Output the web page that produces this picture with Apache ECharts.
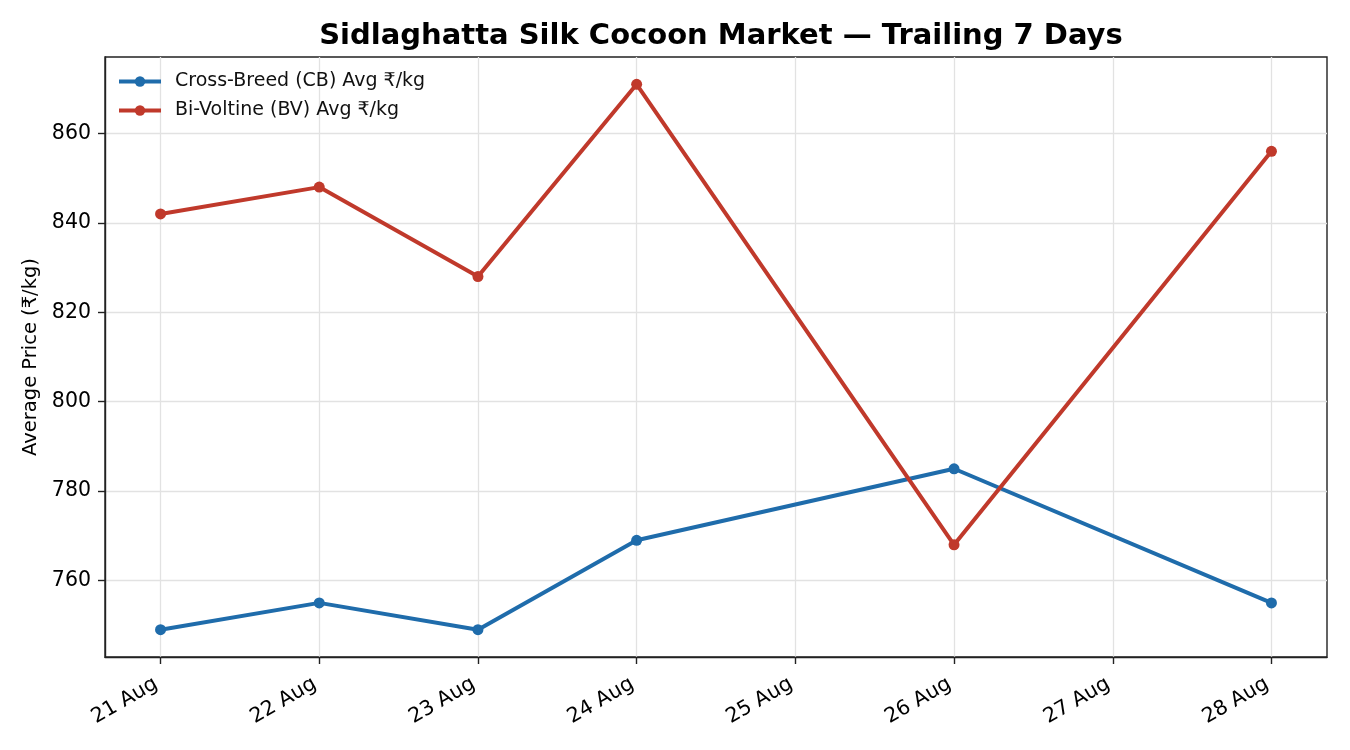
<!DOCTYPE html>
<html>
<head>
<meta charset="utf-8">
<title>Sidlaghatta Silk Cocoon Market</title>
<script src="https://cdn.jsdelivr.net/npm/echarts@6/dist/echarts.min.js"></script>
<style>
	html, body { margin: 0; padding: 0; background: #fff; }
	#main { width: 1350px; height: 750px; }
</style>
</head>
<body>
<div id="main"></div>
<script>
// trading days in August (no market on 25th and 27th)
var days = [21, 22, 23, 24, 26, 28];
var cbPrice = [749, 755, 749, 769, 785, 755];
var bvPrice = [842, 848, 828, 871, 768, 856];
// tick labels
var dayTicks = [21, 22, 23, 24, 25, 26, 27, 28];
var priceTicks = [760, 780, 800, 820, 840, 860];

var FONT = 'DejaVu Sans';

function pairs(xs, ys) {
	var out = [];
	for (var i = 0; i < xs.length; i++) {
		out.push([xs[i], ys[i]]);
	}
	return out;
}

var myChart = echarts.init(document.getElementById('main'));
myChart.setOption({
	animation: false,
	backgroundColor: '#fff',
	title: {
		text: 'Sidlaghatta Silk Cocoon Market — Trailing 7 Days',
		left: 716,
		top: 17,
		textAlign: 'center',
		textStyle: {
			fontFamily: FONT,
			fontWeight: 'bold',
			fontSize: 29,
			color: '#000'
		}
	},
	legend: {
		orient: 'vertical',
		left: 112,
		top: 67,
		itemWidth: 42,
		itemHeight: 13,
		itemGap: 10,
		lineStyle: { width: 4 },
		textStyle: {
			fontFamily: FONT,
			fontSize: 19,
			color: '#111',
			padding: [0, 0, 0, 9]
		},
		data: ['Cross-Breed (CB) Avg ₹/kg', 'Bi-Voltine (BV) Avg ₹/kg']
	},
	grid: {
		left: 105,
		right: 23,
		top: 57,
		bottom: 93,
		show: true,
		borderColor: '#222',
		borderWidth: 1.4
	},
	xAxis: {
		type: 'value',
		min: 20.65,
		max: 28.35,
		axisLine: { lineStyle: { color: '#222', width: 1.4 } },
		axisTick: {
			customValues: dayTicks,
			length: 7,
			lineStyle: { color: '#222', width: 1.4 }
		},
		axisLabel: {
			customValues: dayTicks,
			rotate: 30,
			margin: 23,
			padding: [0, 5, 0, 0],
			fontFamily: FONT,
			fontSize: 20.5,
			color: '#000',
			formatter: function(v) {
				return v + ' Aug';
			}
		},
		splitLine: {
			show: true,
			lineStyle: { color: '#e2e2e2', width: 1.3 }
		}
	},
	yAxis: {
		type: 'value',
		min: 742.9,
		max: 877.1,
		name: 'Average Price (₹/kg)',
		nameLocation: 'middle',
		nameGap: 62,
		nameTextStyle: {
			fontFamily: FONT,
			fontSize: 19.5,
			color: '#000'
		},
		axisLine: { show: true, lineStyle: { color: '#222', width: 1.4 } },
		axisTick: {
			show: true,
			customValues: priceTicks,
			length: 7,
			lineStyle: { color: '#222', width: 1.4 }
		},
		axisLabel: {
			customValues: priceTicks,
			margin: 14,
			fontFamily: FONT,
			fontSize: 20.5,
			color: '#000'
		},
		splitLine: {
			show: true,
			lineStyle: { color: '#e2e2e2', width: 1.3 }
		}
	},
	series: [{
		name: 'Cross-Breed (CB) Avg ₹/kg',
		type: 'line',
		data: pairs(days, cbPrice),
		symbol: 'circle',
		symbolSize: 11,
		color: '#1f6cab',
		lineStyle: { width: 4 }
	}, {
		name: 'Bi-Voltine (BV) Avg ₹/kg',
		type: 'line',
		data: pairs(days, bvPrice),
		symbol: 'circle',
		symbolSize: 11,
		color: '#c0392b',
		lineStyle: { width: 4 }
	}]
});
</script>
</body>
</html>
